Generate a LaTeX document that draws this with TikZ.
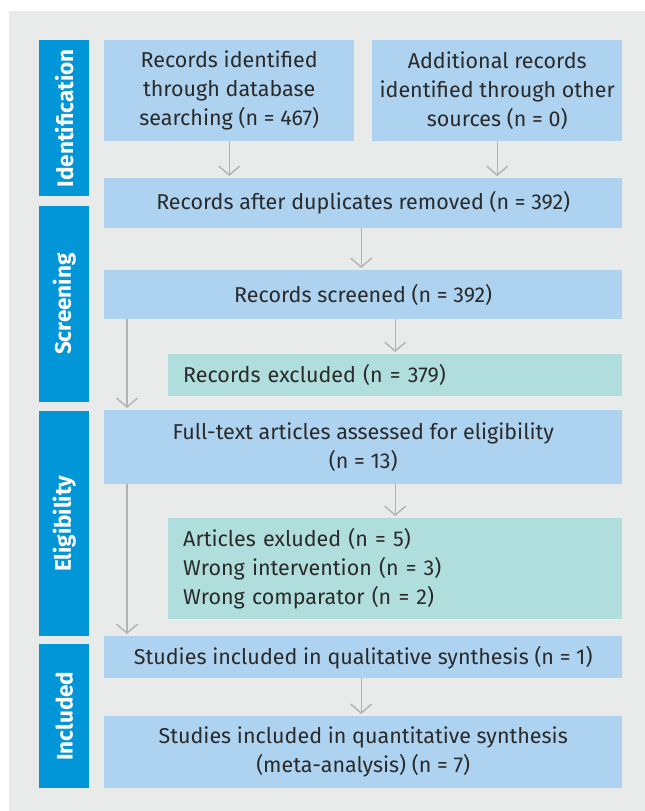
\documentclass[tikz,border=0pt]{standalone}
\usepackage{fontspec}
\setmainfont{Fira Sans}
\usetikzlibrary{arrows.meta}
\definecolor{panelgray}{HTML}{E9EBEB}
\definecolor{boxblue}{HTML}{ADD3F0}
\definecolor{boxgreen}{HTML}{B0DEDC}
\definecolor{barblue}{HTML}{0096D7}
\definecolor{arrgray}{HTML}{B2B2B2}
\definecolor{txt}{HTML}{2A2A2A}
\tikzset{
  bbox/.style={fill=boxblue, draw=none, inner sep=0pt, anchor=north west, align=center, text=txt,
    font=\fontsize{21.5}{29}\selectfont},
  gbox/.style={fill=boxgreen, draw=none, inner sep=0pt, anchor=north west, text=txt,
    font=\fontsize{21.5}{29}\selectfont},
  sidebar/.style={fill=barblue, draw=none, inner sep=0pt, anchor=north west},
  sidelabel/.style={text=white, rotate=90, font=\fontsize{22.5}{24}\selectfont\bfseries},
  arr/.style={draw=arrgray, line width=1.4pt, -{Straight Barb[length=9pt, width=21pt, line width=1.4pt]}, shorten >=2pt}
}
\begin{document}
\begin{tikzpicture}[x=1pt, y=-1pt]
\useasboundingbox (0,0) rectangle (645,811);
\fill[white] (0,0) rectangle (645,811);
\fill[panelgray] (9,11) rectangle (645,811);

% side bars
\node[sidebar, minimum width=50pt, minimum height=156pt] (sb1) at (39,40) {};
\node[sidebar, minimum width=50pt, minimum height=196pt] (sb2) at (39,206) {};
\node[sidebar, minimum width=50pt, minimum height=225pt] (sb3) at (39,411) {};
\node[sidebar, minimum width=50pt, minimum height=144pt] (sb4) at (39,644) {};
\node[sidelabel] (l1) at (sb1.center) {Identification};
\node[sidelabel] (l2) at (sb2.center) {Screening};
\node[sidelabel] (l3) at (sb3.center) {Eligibility};
\node[sidelabel] (l4) at (sb4.center) {Included};

% boxes
\node[bbox, minimum width=250pt, minimum height=101pt] (db) at (104,40)
  {Records identified\\through database\\searching (n = 467)};
\node[bbox, minimum width=250pt, minimum height=101pt] (other) at (372,40)
  {Additional records\\identified through other\\sources (n = 0)};
\node[bbox, minimum width=518pt, minimum height=50pt] (dup) at (104,178)
  {Records after duplicates removed (n = 392)};
\node[bbox, minimum width=518pt, minimum height=49pt] (scr) at (104,270)
  {Records screened (n = 392)};
\node[gbox, minimum width=454pt, minimum height=42pt, text width=424pt, align=left] (exc) at (168,354)
  {Records excluded (n = 379)};
\node[bbox, minimum width=518pt, minimum height=74pt] (full) at (104,410)
  {Full-text articles assessed for eligibility\\(n = 13)};
\node[gbox, minimum width=454pt, minimum height=101pt, text width=424pt, align=left] (art) at (168,518)
  {Articles exluded (n = 5)\\Wrong intervention (n = 3)\\Wrong comparator (n = 2)};
\node[bbox, minimum width=518pt, minimum height=42pt] (qual) at (104,636)
  {Studies included in qualitative synthesis (n = 1)};
\node[bbox, minimum width=518pt, minimum height=72pt] (quant) at (104,716)
  {Studies included in quantitative synthesis\\(meta-analysis) (n = 7)};

% arrows
\draw[arr] (db.south) -- (db.south |- dup.north);
\draw[arr] (other.south) -- (other.south |- dup.north);
\draw[arr] ([xshift=-2pt]dup.south) -- ([xshift=-2pt]scr.north);
\draw[arr] (scr.south -| exc.north) -- (exc.north);
\draw[arr] ([xshift=23pt]scr.south west) -- ([xshift=23pt]full.north west);
\draw[arr] (full.south -| art.north) -- (art.north);
\draw[arr] ([xshift=23pt]full.south west) -- ([xshift=23pt]qual.north west);
\draw[arr] ([xshift=-2pt]qual.south) -- ([xshift=-2pt]quant.north);
\end{tikzpicture}
\end{document}
